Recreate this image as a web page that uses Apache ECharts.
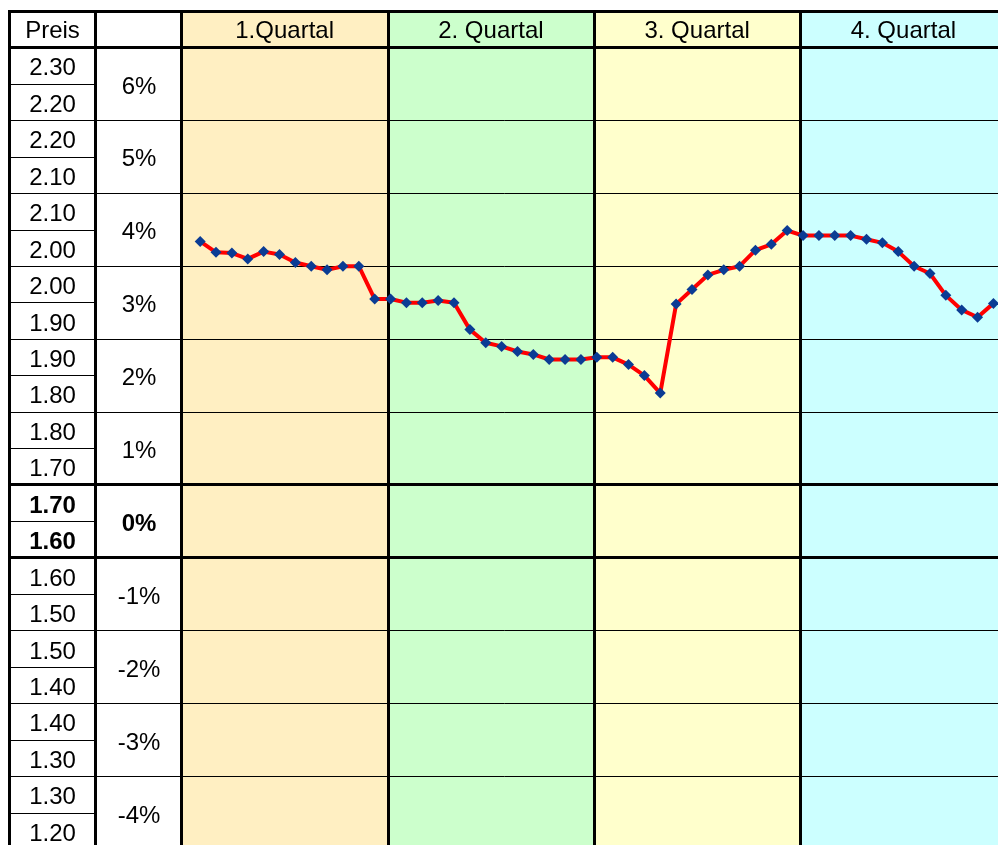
<!DOCTYPE html>
<html>
<head>
<meta charset="utf-8">
<title>Preis je Quartal</title>
<script src="https://cdn.jsdelivr.net/npm/echarts@6/dist/echarts.min.js"></script>
<style>
	html, body { margin: 0; padding: 0; background: #fff; }
	#statistics { width: 998px; height: 845px; }
</style>
</head>
<body>
<div id="statistics"></div>
<script type="text/javascript">
	// Wochen und Preise
	var weeks = [1, 2, 3, 4, 5, 6, 7, 8, 9, 10, 11, 12, 13, 14, 15, 16, 17, 18, 19, 20,
		21, 22, 23, 24, 25, 26, 27, 28, 29, 30, 31, 32, 33, 34, 35, 36, 37, 38, 39, 40,
		41, 42, 43, 44, 45, 46, 47, 48, 49, 50, 51];
	var prices = [2.034, 2.019, 2.018, 2.010, 2.020, 2.016, 2.005, 2.000, 1.995, 2.000,
		2.000, 1.955, 1.955, 1.950, 1.950, 1.953, 1.950, 1.913, 1.895, 1.890,
		1.883, 1.879, 1.872, 1.872, 1.872, 1.875, 1.875, 1.865, 1.850, 1.826,
		1.948, 1.968, 1.988, 1.995, 2.000, 2.022, 2.030, 2.049, 2.042, 2.042,
		2.042, 2.042, 2.037, 2.032, 2.020, 2.000, 1.990, 1.960, 1.940, 1.930, 1.949];
	var quarters = ['1.Quartal', '2. Quartal', '3. Quartal', '4. Quartal'];
	var quarterColors = ['#FFEFC2', '#CCFFCC', '#FFFFCC', '#CCFFFF'];
	var headLabels = ['Preis', ''];
	var percentLabels = ['6%', '5%', '4%', '3%', '2%', '1%', '0%', '-1%', '-2%', '-3%', '-4%'];
	var preisLabels = ['2.30', '2.20', '2.20', '2.10', '2.10', '2.00', '2.00', '1.90', '1.90', '1.80', '1.80',
		'1.70', '1.70', '1.60', '1.60', '1.50', '1.50', '1.40', '1.40', '1.30', '1.30', '1.20'];

	var font = 'Liberation Sans';
	var fs = 24;
	var rowH = 72.9;
	var top0 = 47.5;
	var bodyH = rowH * percentLabels.length;
	var zeroRow = percentLabels.indexOf('0%');

	var frame = {show: true, borderColor: '#000', borderWidth: 3, backgroundColor: 'transparent', z: 6, outerBoundsMode: 'none'};
	var label = {fontFamily: font, fontSize: fs, color: '#000', padding: [6, 0, 0, 0]};

	function hidden(idx, type) {
		return {type: type || 'value', gridIndex: idx, show: false};
	}
	function g(o) {
		o.outerBoundsMode = 'none';
		o.containLabel = false;
		return o;
	}

	var myChart = echarts.init(document.getElementById('statistics'), null, {renderer: 'canvas'});
	option = {
		animation: false,
		backgroundColor: '#fff',
		grid: [
			g({left: 9.5, top: 11.5, width: 172, height: 838}),
			g({left: 181.5, top: 11.5, width: 825, height: 838}),
			g({left: 9.5, top: top0, width: 86, height: bodyH}),
			g({left: 9.5, top: top0, width: 1000, height: bodyH}),
			g({left: 184.3, top: top0, width: 825, height: bodyH}),
			Object.assign({left: 9.5, top: 11.5, width: 1000, height: 36}, frame),
			Object.assign({left: 9.5, top: Math.floor(top0 + zeroRow * rowH) + 0.5, width: 1000, height: 73}, frame)
		],
		xAxis: [
			{
				type: 'category', gridIndex: 0, position: 'top', data: headLabels, z: 3,
				axisLine: {show: false}, axisTick: {show: false},
				axisLabel: Object.assign({inside: true, margin: 20, verticalAlign: 'middle', interval: 0}, label),
				splitLine: {show: true, interval: 0, lineStyle: {color: '#000', width: 3}}
			},
			{
				type: 'category', gridIndex: 1, position: 'top', data: quarters, z: 3,
				axisLine: {show: false}, axisTick: {show: false},
				axisLabel: Object.assign({inside: true, margin: 20, verticalAlign: 'middle', interval: 0}, label),
				splitLine: {show: true, interval: 0, lineStyle: {color: '#000', width: 3}}
			},
			hidden(2),
			hidden(3),
			{type: 'value', gridIndex: 4, min: 0, max: 52, show: false}
		],
		yAxis: [
			hidden(0),
			{type: 'value', gridIndex: 1, min: 0, max: 1, show: false},
			{
				type: 'category', gridIndex: 2, data: preisLabels, inverse: true, z: 3,
				axisLine: {show: false}, axisTick: {show: false},
				axisLabel: Object.assign({
					inside: true, margin: 43, align: 'center', interval: 0,
					formatter: function (v, i) {
						return (i === zeroRow * 2 || i === zeroRow * 2 + 1) ? '{b|' + v + '}' : v;
					},
					rich: {b: {fontFamily: font, fontSize: fs, fontWeight: 'bold', color: '#000'}}
				}, label),
				splitLine: {show: true, interval: 0, lineStyle: {color: '#000', width: 1}}
			},
			{
				type: 'category', gridIndex: 3, data: percentLabels, inverse: true, z: 3,
				axisLine: {show: false}, axisTick: {show: false},
				axisLabel: Object.assign({
					inside: true, margin: 129.5, align: 'center', interval: 0,
					formatter: function (v, i) {
						return i === zeroRow ? '{b|' + v + '}' : v;
					},
					rich: {b: {fontFamily: font, fontSize: fs, fontWeight: 'bold', color: '#000'}}
				}, label),
				splitLine: {show: true, interval: 0, lineStyle: {color: '#000', width: 1}}
			},
			{type: 'value', gridIndex: 4, min: 1.2, max: 2.3, show: false}
		],
		series: [
			{
				// Quartalsfarben
				type: 'bar', xAxisIndex: 1, yAxisIndex: 1, z: 1,
				barWidth: '100%', barCategoryGap: '0%', silent: true,
				data: quarters.map(function (q, i) {
					return {value: 1, itemStyle: {color: quarterColors[i]}};
				})
			},
			{
				name: 'Preis', type: 'line', xAxisIndex: 4, yAxisIndex: 4, z: 10,
				symbol: 'diamond', symbolSize: 11,
				lineStyle: {color: '#FF0000', width: 4},
				itemStyle: {color: '#0B3C94'},
				data: weeks.map(function (w, i) { return [w, prices[i]]; })
			}
		]
	};
	myChart.setOption(option);
</script>
</body>
</html>
